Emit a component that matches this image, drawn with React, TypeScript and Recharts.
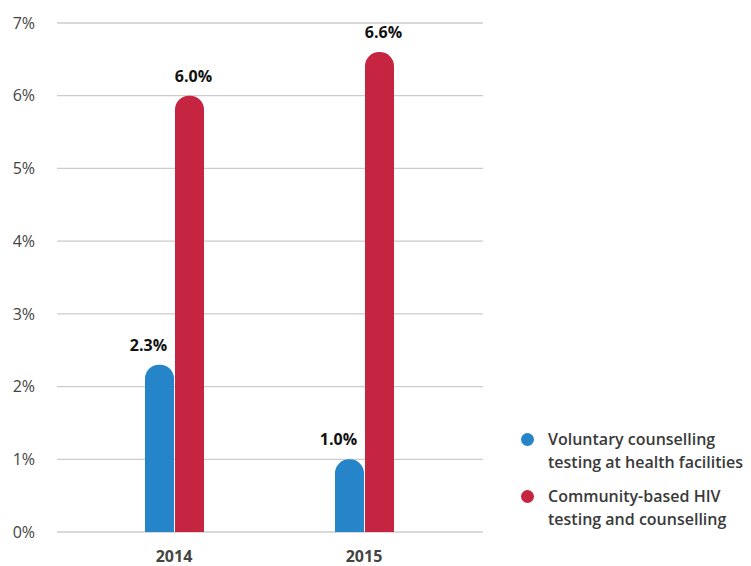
import { BarChart, Bar, XAxis, YAxis, CartesianGrid, LabelList } from "recharts";

const years = ["2014", "2015"];
const facilityTesting = [2.3, 1.0];
const communityTesting = [6.0, 6.6];
const yTicks = [0, 1, 2, 3, 4, 5, 6, 7];

const seriesNames = [
  ["Voluntary counselling", "testing at health facilities"],
  ["Community-based HIV", "testing and counselling"],
];

const BLUE = "#2684C8";
const RED = "#C52541";
const FONT = "'Open Sans', sans-serif";

const data = years.map((year, i) => ({
  year,
  facility: facilityTesting[i],
  community: communityTesting[i],
}));

const makeLabel = (shift: number) => (props: any) => {
  const { x, y, width, value } = props;
  return (
    <text
      x={Number(x) + Number(width) / 2 + shift}
      y={Number(y) - 14}
      textAnchor="middle"
      fontFamily={FONT}
      fontSize={16}
      fontWeight={700}
      fill="#111"
    >
      {Number(value).toFixed(1)}%
    </text>
  );
};

// legend sits outside the svg so it doesn't eat plot height
const LegendBox = () => (
  <div
    style={{
      position: "absolute",
      left: 521,
      top: 428,
      fontFamily: FONT,
      fontSize: 16,
      fontWeight: 600,
      color: "#3a3a3a",
    }}
  >
    {seriesNames.map((lines, i) => (
      <div key={i} style={{ display: "flex", marginBottom: 11, lineHeight: "23px" }}>
        <span
          style={{
            width: 13,
            height: 13,
            borderRadius: 7,
            background: i === 0 ? BLUE : RED,
            marginTop: 5,
            marginRight: 14,
            flexShrink: 0,
          }}
        />
        <div>
          {lines.map((l) => (
            <div key={l}>{l}</div>
          ))}
        </div>
      </div>
    ))}
  </div>
);

export default function App() {
  return (
    <div style={{ position: "absolute", left: 0, top: 0, width: 751, height: 566 }}>
      <BarChart
        width={751}
        height={566}
        data={data}
        margin={{ top: 23, right: 268, bottom: 0, left: 0 }}
        barSize={29}
        barGap={1}
      >
        <CartesianGrid vertical={false} stroke="#cccccc" strokeWidth={1.3} />
        <XAxis
          dataKey="year"
          height={34}
          axisLine={false}
          tickLine={false}
          tickSize={0}
          tickMargin={19}
          padding={{ left: 22, right: 24 }}
          tick={{ fontFamily: FONT, fontSize: 16, fontWeight: 700, fill: "#444" }}
        />
        <YAxis
          domain={[0, 7]}
          ticks={yTicks}
          width={57}
          axisLine={false}
          tickLine={false}
          tickSize={0}
          tickMargin={22}
          tickFormatter={(v: number) => `${v}%`}
          tick={{ fontFamily: FONT, fontSize: 16, fill: "#444" }}
        />
        <Bar dataKey="facility" fill={BLUE} radius={[14, 14, 0, 0]} isAnimationActive={false}>
          <LabelList dataKey="facility" content={makeLabel(-11)} />
        </Bar>
        <Bar dataKey="community" fill={RED} radius={[14, 14, 0, 0]} isAnimationActive={false}>
          <LabelList dataKey="community" content={makeLabel(4)} />
        </Bar>
      </BarChart>
      <LegendBox />
    </div>
  );
}
